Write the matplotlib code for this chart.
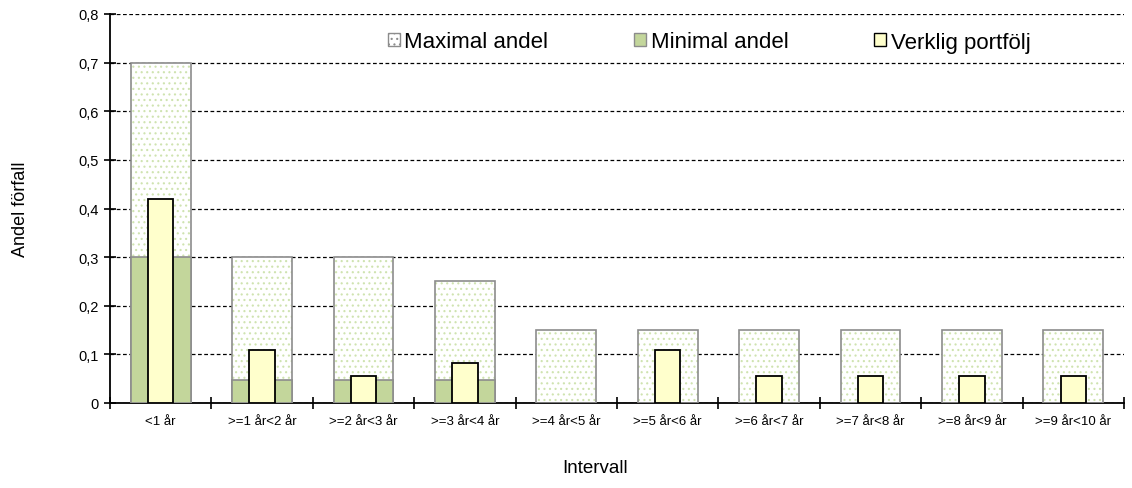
import matplotlib
matplotlib.use("Agg")
import matplotlib.pyplot as plt
import numpy as np
from matplotlib.patches import Patch

plt.rcParams['font.family'] = ['Liberation Sans', 'DejaVu Sans']
plt.rcParams['hatch.linewidth'] = 0.8

categories = ["<1 år", ">=1 år<2 år", ">=2 år<3 år", ">=3 år<4 år", ">=4 år<5 år",
              ">=5 år<6 år", ">=6 år<7 år", ">=7 år<8 år", ">=8 år<9 år", ">=9 år<10 år"]
max_share = [0.70, 0.30, 0.30, 0.25, 0.15, 0.15, 0.15, 0.15, 0.15, 0.15]
min_share = [0.30, 0.047, 0.047, 0.047, 0, 0, 0, 0, 0, 0]
actual = [0.42, 0.11, 0.055, 0.082, 0, 0.11, 0.055, 0.055, 0.055, 0.055]
yticks = [0, 0.1, 0.2, 0.3, 0.4, 0.5, 0.6, 0.7, 0.8]
ytick_labels = ["0", "0,1", "0,2", "0,3", "0,4", "0,5", "0,6", "0,7", "0,8"]

fig = plt.figure(figsize=(11.32, 4.89), dpi=100)
ax = fig.add_axes([110/1132, 85/489, (1124-110)/1132, (404-15)/489])

x = np.arange(len(categories))
wide = 0.59
narrow = 0.25
green = '#c3d69b'
dotgreen = '#cfe3b0'
gray = '#8c8c8c'

# hatch layer for max bars
ax.bar(x, max_share, width=wide, color='white', edgecolor=dotgreen, hatch='...', linewidth=0, zorder=2)
ax.bar(x, max_share, width=wide, color='none', edgecolor=gray, linewidth=1.2, zorder=3)
# min bars
mask = [m > 0 for m in min_share]
ax.bar(x[mask], np.array(min_share)[mask], width=wide, color=green, edgecolor=gray, linewidth=1.2, zorder=4)
# actual bars
am = [a > 0 for a in actual]
ax.bar(x[am], np.array(actual)[am], width=narrow, color='#ffffcc', edgecolor='black', linewidth=1.3, zorder=5)

ax.set_xlim(-0.5, len(categories) - 0.5)
ax.set_ylim(0, 0.8)
ax.set_yticks(yticks)
ax.set_yticklabels(ytick_labels, fontsize=10.5)
ax.yaxis.grid(True, linestyle=(0, (3, 2)), color='black', linewidth=0.9, zorder=0)
ax.set_axisbelow(True)

ax.set_xticks(x)
ax.set_xticklabels(categories, fontsize=9.5)
ax.tick_params(axis='x', length=0, pad=9)
ax.set_xticks(np.arange(-0.5, len(categories) + 0.5, 1), minor=True)
ax.tick_params(axis='x', which='minor', direction='inout', length=8, width=1.2)
ax.tick_params(axis='y', direction='inout', length=8, width=1.2, pad=4)

for s in ['top', 'right']:
    ax.spines[s].set_visible(False)
ax.spines['left'].set_linewidth(1.3)
ax.spines['bottom'].set_linewidth(1.3)

ax.set_ylabel("Andel förfall", fontsize=13)
ax.yaxis.set_label_coords(-81/1014, 0.5)
ax.set_xlabel("Intervall", fontsize=13.5)
ax.xaxis.set_label_coords((595-110)/1014, -56/389)

handles = [
    Patch(facecolor='white', edgecolor=gray, hatch='...', label='Maximal andel'),
    Patch(facecolor=green, edgecolor=gray, label='Minimal andel'),
    Patch(facecolor='#ffffcc', edgecolor='black', label='Verklig portfölj'),
]
leg = ax.legend(handles=handles, loc='center', bbox_to_anchor=((709-110)/1014, (404-43)/389), ncol=3,
                frameon=False, fontsize=16, handlelength=0.55, handleheight=0.55,
                handletextpad=0.2, columnspacing=3.85, borderpad=0)

fig.savefig("out.png", dpi=100)
